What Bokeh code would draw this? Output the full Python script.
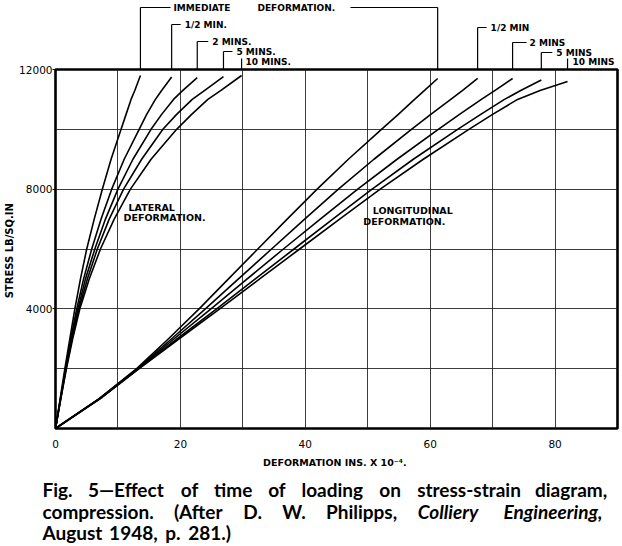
from bokeh.plotting import figure
from bokeh.models import Range1d, FixedTicker, Label, Arrow, NormalHead
from bokeh.layouts import column
from bokeh.embed import file_html
from bokeh.resources import INLINE

# ---------------- data ----------------
stress_steps = [0, 1000, 2000, 3000, 4000, 5000, 6000, 7000, 8000, 9000, 10000, 10500, 11000, 11300]

# lateral deformation (x 10^-4 in) at each stress step
lat_immediate = [0, 0.75, 1.5, 2.3, 3.1, 4.0, 5.0, 6.2, 7.5, 8.9, 10.5, 11.3, 12.1, 12.7]
lat_half_min = [0, 0.8, 1.6, 2.45, 3.4, 4.5, 5.8, 7.3, 9.0, 11.0, 13.4, 14.6, 16.0, 17.0]
lat_2_min = [0, 0.8, 1.65, 2.55, 3.6, 4.8, 6.3, 8.0, 10.0, 12.4, 15.3, 17.0, 18.9, 20.4]
lat_5_min = [0, 0.85, 1.7, 2.65, 3.75, 5.1, 6.7, 8.6, 10.9, 13.8, 17.2, 19.4, 21.9, 23.9]
lat_10_min = [0, 0.85, 1.75, 2.75, 3.9, 5.4, 7.2, 9.4, 12.0, 15.3, 19.4, 21.8, 24.4, 26.5]
lat_end_x = [13.6, 18.6, 22.7, 26.9, 29.8]
lat_end_y = [11800, 11750, 11730, 11760, 11800]

# longitudinal deformation (x 10^-4 in) at each stress step
lon_immediate = [0, 7.0, 13.0, 18.1, 23.0, 27.7, 32.4, 37.1, 41.9, 46.9, 52.2, 54.9, 57.5, 59.1]
lon_half_min = [0, 7.0, 13.1, 18.6, 24.0, 29.3, 34.6, 39.9, 45.3, 51.0, 57.0, 60.1, 63.3, 65.2]
lon_2_min = [0, 7.1, 13.2, 19.0, 24.9, 30.7, 36.5, 42.4, 48.4, 54.7, 61.3, 64.7, 68.2, 70.4]
lon_5_min = [0, 7.1, 13.3, 19.5, 25.8, 32.0, 38.2, 44.4, 50.7, 57.3, 64.4, 68.1, 71.9, 74.5]
lon_10_min = [0, 7.2, 13.4, 19.8, 26.3, 32.7, 39.1, 45.5, 52.0, 58.9, 66.2, 70.0, 74.0, 77.6]
lon_end_x = [61.2, 67.6, 73.2, 77.8, 82.0]
lon_end_y = [11700, 11700, 11700, 11650, 11600]

x_ticks = [0, 20, 40, 60, 80]
y_ticks = [4000, 8000, 12000]
x_grid = [10, 20, 30, 40, 50, 60, 70, 80]
y_grid = [2000, 4000, 6000, 8000, 10000]
X_MAX = 90
Y_MAX = 12000

left_time_labels = ["1/2 MIN.", "2 MINS.", "5 MINS.", "10 MINS."]
right_time_labels = ["1/2 MIN", "2 MINS", "5 MINS", "10 MINS"]

caption_lines = [
    [("Fig.", "bold"), ("5\u2014Effect", "bold"), ("of", "bold"), ("time", "bold"), ("of", "bold"),
     ("loading", "bold"), ("on", "bold"), ("stress-strain", "bold"), ("diagram,", "bold")],
    [("compression.", "bold"), ("(After", "bold"), ("D.", "bold"), ("W.", "bold"),
     ("Philipps,", "bold"), ("Colliery", "bold italic"), ("Engineering,", "bold italic")],
    [("August", "bold"), ("1948,", "bold"), ("p.", "bold"), ("281.)", "bold")],
]

# ---------------- layout (page pixels) ----------------
W, H = 622, 546
FL, FR, FT, FB = 55, 617, 69, 428
TOP_H = 65
MAIN_BOTTOM = 474
CAP_Y = [489, 511, 532]
CAP_X0 = 42
CAP_X1 = [607, 607, 231]
CAP_SIZE = 19

# rough Lato Bold advance widths (em) used to justify the caption lines
EM = {"a": .51, "b": .57, "c": .46, "d": .57, "e": .53, "f": .33, "g": .51, "h": .57, "i": .26,
      "l": .26, "m": .85, "n": .57, "o": .57, "p": .57, "r": .37, "s": .42, "t": .36, "u": .57,
      "y": .51, "A": .68, "C": .67, "D": .73, "E": .55, "F": .53, "P": .6, "W": .97, ".": .24,
      ",": .24, "(": .3, ")": .3, "-": .34, "\u2014": .9}


def word_w(word):
    return sum(EM.get(c, .58) for c in word) * CAP_SIZE


def to_px(x):
    return FL + x / X_MAX * (FR - FL)


TXT = dict(text_font="DejaVu Sans", text_font_style="bold", text_font_size="9px",
           text_color="black", text_baseline="middle", text_align="left")


def strip(height, y0):
    f = figure(width=W, height=height, x_range=Range1d(0, W), y_range=Range1d(y0 + height, y0),
               x_axis_location=None, y_axis_location=None,
               min_border_left=0, min_border_right=0, min_border_top=0, min_border_bottom=0,
               frame_align=False, output_backend="svg", toolbar_location=None)
    f.grid.visible = False
    f.outline_line_color = None
    f.background_fill_color = "white"
    f.border_fill_color = "white"
    return f


# ---------- top strip: annotations above the plot (page-pixel coordinates) ----------
top = strip(TOP_H, 0)


def vline_top(px, py):
    top.add_layout(Arrow(x_start=px, y_start=py, x_end=px, y_end=TOP_H + 2,
                         line_color="black", line_width=1.2, end=None))


def hline_top(px0, px1, py):
    top.add_layout(Arrow(x_start=px0, y_start=py, x_end=px1, y_end=py,
                         line_color="black", line_width=1.2, end=None))


def label_top(px, py, text):
    top.add_layout(Label(x=px, y=py, text=text, **TXT))


# immediate-deformation bracket
lx0 = to_px(lat_end_x[0])
rx0 = to_px(lon_end_x[0])
vline_top(lx0, 7)
vline_top(rx0, 7)
hline_top(lx0, 170, 7)
hline_top(350, rx0, 7)
label_top(173, 7, "IMMEDIATE")
label_top(257, 7, "DEFORMATION.")

left_py = [24, 41, 51]
left_tdx = [13, 15, 13]
left_bdx = [9, 11, 9]
for k in range(3):
    ex = to_px(lat_end_x[k + 1])
    vline_top(ex, left_py[k])
    hline_top(ex, ex + left_bdx[k], left_py[k])
    label_top(ex + left_tdx[k], left_py[k], left_time_labels[k])
ex = to_px(lat_end_x[4])
vline_top(ex, 58)
label_top(ex + 4, 61, left_time_labels[3])

right_py = [27, 42, 52]
right_tdx = [13, 17, 15]
right_bdx = [9, 14, 11]
for k in range(3):
    ex = to_px(lon_end_x[k + 1])
    vline_top(ex, right_py[k])
    hline_top(ex, ex + right_bdx[k], right_py[k])
    label_top(ex + right_tdx[k], right_py[k], right_time_labels[k])
ex = to_px(lon_end_x[4])
vline_top(ex, 58)
label_top(ex + 5, 61, right_time_labels[3])

# ---------- main plot ----------
p = figure(width=W, height=MAIN_BOTTOM - TOP_H, x_range=Range1d(0, X_MAX), y_range=Range1d(0, Y_MAX),
           min_border_left=FL, min_border_right=W - FR, min_border_top=FT - TOP_H,
           min_border_bottom=MAIN_BOTTOM - FB, output_backend="svg", toolbar_location=None)
p.background_fill_color = "white"
p.border_fill_color = "white"
p.outline_line_color = "black"
p.outline_line_width = 2.6

p.xaxis.ticker = FixedTicker(ticks=x_ticks)
p.yaxis.ticker = FixedTicker(ticks=y_ticks)
for ax in (p.xaxis, p.yaxis):
    ax.axis_line_color = None
    ax.minor_tick_line_color = None
    ax.major_label_text_font = "DejaVu Sans"
    ax.major_label_text_font_size = "10.5px"
    ax.major_label_text_color = "black"
    ax.axis_label_text_font = "DejaVu Sans"
    ax.axis_label_text_font_size = "9.5px"
    ax.axis_label_text_font_style = "bold"
    ax.axis_label_text_color = "black"
p.xaxis.major_tick_line_color = None
p.xaxis.major_label_standoff = 5
p.xaxis.axis_label = "DEFORMATION  INS. X 10\u207b\u2074."
p.xaxis.axis_label_standoff = 6
p.yaxis.major_tick_in = 0
p.yaxis.major_tick_out = 3
p.yaxis.major_tick_line_color = "black"
p.yaxis.major_label_standoff = 0
p.yaxis.axis_label = "STRESS  LB/SQ.IN"
p.yaxis.axis_label_text_font_size = "10px"
p.yaxis.axis_label_standoff = 1

p.xgrid.ticker = FixedTicker(ticks=x_grid)
p.ygrid.ticker = FixedTicker(ticks=y_grid)
p.grid.grid_line_color = "#1a1a1a"
p.grid.grid_line_width = 1
p.grid.grid_line_alpha = 0.85

lateral = [lat_immediate, lat_half_min, lat_2_min, lat_5_min, lat_10_min]
longitudinal = [lon_immediate, lon_half_min, lon_2_min, lon_5_min, lon_10_min]
for i in range(5):
    p.line(lateral[i] + [lat_end_x[i]], stress_steps + [lat_end_y[i]],
           line_color="black", line_width=1.6, line_join="round")
    p.line(longitudinal[i] + [lon_end_x[i]], stress_steps + [lon_end_y[i]],
           line_color="black", line_width=1.6, line_join="round")

# arrow heads touching the 12000 line
for ex in lat_end_x + lon_end_x:
    p.add_layout(Arrow(x_start=ex, y_start=Y_MAX + 200, x_end=ex, y_end=Y_MAX,
                       line_color="black", line_width=1.2,
                       end=NormalHead(size=6, fill_color="black", line_color="black")))

LBL = dict(TXT, text_font_size="9.5px")
p.add_layout(Label(x=11.7, y=7390, text="LATERAL", **LBL))
p.add_layout(Label(x=10.9, y=7050, text="DEFORMATION.", **LBL))
p.add_layout(Label(x=50.8, y=7290, text="LONGITUDINAL", **LBL))
p.add_layout(Label(x=49.3, y=6920, text="DEFORMATION.", **LBL))

# ---------- caption strip (page-pixel coordinates, justified lines) ----------
cap = strip(H - MAIN_BOTTOM, MAIN_BOTTOM)
for line, py, x1 in zip(caption_lines, CAP_Y, CAP_X1):
    widths = [word_w(w) for w, _ in line]
    gap = (x1 - CAP_X0 - sum(widths)) / (len(line) - 1)
    x = CAP_X0
    for (word, style), w in zip(line, widths):
        cap.add_layout(Label(x=x, y=py, text=word, text_font="Lato", text_font_style=style,
                             text_font_size=f"{CAP_SIZE}px", text_color="black",
                             text_baseline="middle", text_align="left"))
        x += w + gap

layout = column(top, p, cap, spacing=0)
open("out.html", "w").write(file_html(layout, INLINE))
